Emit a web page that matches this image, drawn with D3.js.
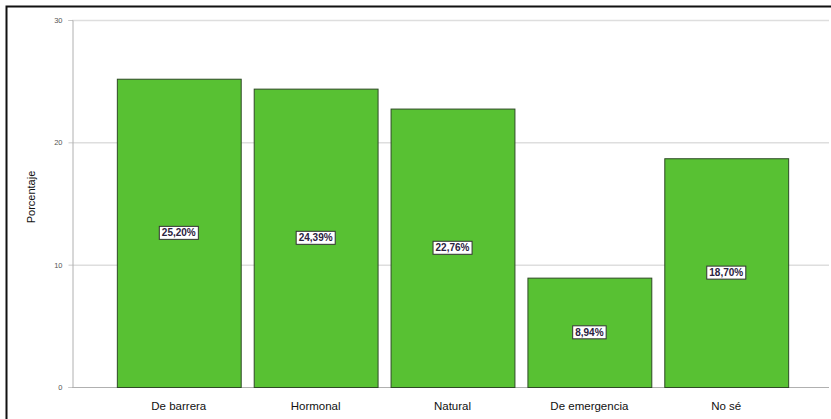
<!DOCTYPE html>
<html>
<head>
<meta charset="utf-8">
<script src="https://cdn.jsdelivr.net/npm/d3@7/dist/d3.min.js"></script>
<style>
  html, body { margin: 0; padding: 0; background: #fff; }
  svg { display: block; }
</style>
</head>
<body>
<svg id="chart" width="831" height="419"></svg>
<script>
const categories = ["De barrera", "Hormonal", "Natural", "De emergencia", "No sé"];
const values = [25.20, 24.39, 22.76, 8.94, 18.70];
const valueLabels = ["25,20%", "24,39%", "22,76%", "8,94%", "18,70%"];
const yTicks = [0, 10, 20, 30];

const svg = d3.select("#chart");
const W = 831, H = 419;
const plot = { left: 72, right: 829, top: 20, bottom: 387 };

// outer frame
svg.append("rect").attr("x", 6.5).attr("y", 6.5).attr("width", W + 10).attr("height", H + 10)
  .attr("fill", "none").attr("stroke", "#111").attr("stroke-width", 2);

const y = d3.scaleLinear().domain([0, 30]).range([plot.bottom, plot.top]);
const x = d3.scaleBand().domain(categories).range([110, 795]).paddingInner(0.095).paddingOuter(0.05);

// gridlines
svg.append("g").selectAll("line").data(yTicks.filter(d => d > 0)).join("line")
  .attr("x1", plot.left).attr("x2", plot.right)
  .attr("y1", d => y(d) + 0.5).attr("y2", d => y(d) + 0.5)
  .attr("stroke", "#dedede").attr("stroke-width", 1.5);

// y axis
const yAxis = d3.axisLeft(y).tickValues(yTicks).tickSize(4).tickPadding(6);
const gy = svg.append("g").attr("transform", `translate(${plot.left + 0.5},0)`).call(yAxis);
gy.select(".domain").attr("stroke", "#b0b0b0");
gy.selectAll(".tick line").attr("stroke", "#c8c8c8");
gy.selectAll(".tick text").attr("font-family", "Liberation Sans, Arial, sans-serif")
  .attr("font-size", 7.5).attr("fill", "#555");

// x axis line
svg.append("line").attr("x1", plot.left).attr("x2", plot.right)
  .attr("y1", plot.bottom + 0.5).attr("y2", plot.bottom + 0.5)
  .attr("stroke", "#b0b0b0").attr("stroke-width", 1);

// bars
svg.append("g").selectAll("rect").data(values).join("rect")
  .attr("x", (d, i) => x(categories[i]) + 0.5)
  .attr("y", d => y(d) + 0.5)
  .attr("width", x.bandwidth())
  .attr("height", d => y(0) - y(d))
  .attr("fill", "#58c133")
  .attr("stroke", "#2e4a25").attr("stroke-width", 1);

// value labels
const lg = svg.append("g").selectAll("g").data(values).join("g")
  .attr("transform", (d, i) => `translate(${x(categories[i]) + x.bandwidth() / 2},${(y(d) + y(0)) / 2})`);
lg.append("text")
  .attr("text-anchor", "middle").attr("dy", "0.35em")
  .attr("font-family", "Liberation Sans, Arial, sans-serif")
  .attr("font-size", 10).attr("font-weight", "bold").attr("fill", "#2a2240")
  .text((d, i) => valueLabels[i]);
lg.each(function() {
  const g = d3.select(this);
  const bb = g.select("text").node().getBBox();
  g.insert("rect", "text")
    .attr("x", bb.x - 2.5).attr("y", -6.5)
    .attr("width", bb.width + 5).attr("height", 13)
    .attr("fill", "#fff").attr("stroke", "#333").attr("stroke-width", 1);
});

// category labels
svg.append("g").selectAll("text").data(categories).join("text")
  .attr("x", d => x(d) + x.bandwidth() / 2)
  .attr("y", 410)
  .attr("text-anchor", "middle")
  .attr("font-family", "Liberation Sans, Arial, sans-serif")
  .attr("font-size", 11.5).attr("fill", "#111")
  .text(d => d);

// y axis title
svg.append("text")
  .attr("transform", "translate(35,197) rotate(-90)")
  .attr("text-anchor", "middle")
  .attr("font-family", "Liberation Sans, Arial, sans-serif")
  .attr("font-size", 11).attr("fill", "#111")
  .text("Porcentaje");
</script>
</body>
</html>
